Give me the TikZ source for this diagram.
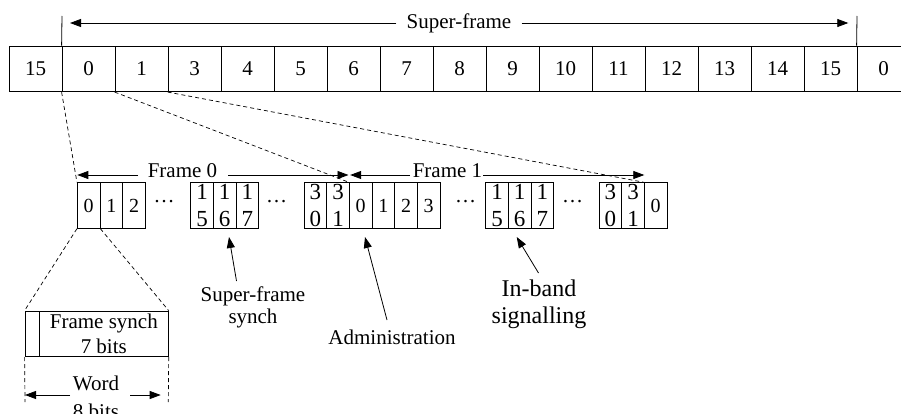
\documentclass[tikz,border=0pt]{standalone}
\usepackage{fontspec}
\setmainfont{Liberation Serif}
\usetikzlibrary{arrows.meta}
\begin{document}
\begin{tikzpicture}[x=1pt,y=-1pt, line width=0.8pt,
  every node/.style={inner sep=0pt, font=\fontsize{21}{22}\selectfont},
  topcell/.style={draw, minimum width=53pt, minimum height=45.7pt},
  fcell/.style={draw, minimum width=22.67pt, minimum height=45.6pt, font=\fontsize{20}{24}\selectfont},
  scell/.style={draw, minimum width=22.67pt, minimum height=45.6pt, align=center, font=\fontsize{23}{27}\selectfont},
  dashline/.style={dash pattern=on 4pt off 3pt, line width=0.7pt},
  arr/.style={-{Triangle[length=11pt,width=8pt]}},
  lbl/.style={align=center},
  dotsnode/.style={anchor=base}
]
\useasboundingbox (0,0) rectangle (901,414);

% top row
\foreach \t [count=\i from 0] in {15,0,1,3,4,5,6,7,8,9,10,11,12,13,14,15,0}
  \node[topcell] (c\i) at ({35.5+53*\i},68.8) {\t};

% super-frame marker
\coordinate (tl) at (62,16);
\coordinate (tr) at (857,16);
\draw (c1.north west) -- (tl);
\draw (c16.north west) -- (tr);
\node[inner xsep=10pt] (sf) at (459,23) {Super-frame};
\coordinate (sftl) at (70,23);
\coordinate (sftr) at (848.3,23);
\draw[arr] (sf.west) -- (sftl);
\draw[arr] (sf.east) -- (sftr);

% frame row
\node[fcell] (fa0) at (88.67,205.5) {\lower3pt\hbox{0}};
\node[fcell] (fa1) at (111.33,205.5) {\lower3pt\hbox{1}};
\node[fcell] (fa2) at (134.0,205.5) {\lower3pt\hbox{2}};
\node[dotsnode] (d1) at (164,202) {…};
\node[scell] (fb15) at (202.0,205.5) {1\\5};
\node[scell] (fb16) at (224.67,205.5) {1\\6};
\node[scell] (fb17) at (247.33,205.5) {1\\7};
\node[dotsnode] (d2) at (276.7,202) {…};
\node[scell] (fc30) at (315.33,205.5) {3\\0};
\node[scell] (fc31) at (338.0,205.5) {3\\1};
\node[fcell] (ga0) at (360.67,205.5) {\lower3pt\hbox{0}};
\node[fcell] (ga1) at (383.33,205.5) {\lower3pt\hbox{1}};
\node[fcell] (ga2) at (406.0,205.5) {\lower3pt\hbox{2}};
\node[fcell] (ga3) at (428.67,205.5) {\lower3pt\hbox{3}};
\node[dotsnode] (d3) at (465.5,202) {…};
\node[scell] (gb15) at (497.0,205.5) {1\\5};
\node[scell] (gb16) at (519.67,205.5) {1\\6};
\node[scell] (gb17) at (542.33,205.5) {1\\7};
\node[dotsnode] (d4) at (572.5,202) {…};
\node[scell] (gc30) at (610.33,205.5) {3\\0};
\node[scell] (gc31) at (633.0,205.5) {3\\1};
\node[fcell] (h0) at (655.67,205.5) {\lower3pt\hbox{0}};

% frame labels
\node (f0lbl) at (182.5,170.5) {Frame 0};
\coordinate (f0a) at (138,175);
\coordinate (f0b) at (228,175);
\coordinate (f0l) at (77.3,175);
\coordinate (f0r) at (348.5,175);
\draw[arr] (f0a) -- (f0l);
\draw[arr] (f0b) -- (f0r);
\node (f1lbl) at (447.5,170.5) {Frame 1};
\coordinate (f1a) at (410,175);
\coordinate (f1b) at (483,175);
\coordinate (f1l) at (350.2,175);
\coordinate (f1r) at (644.3,175);
\draw[arr] (f1a) -- (f1l);
\draw[arr] (f1b) -- (f1r);

% dashed expansion lines
\draw[dashline] (c1.south west) -- (fa0.north west);
\draw[dashline] (c2.south west) -- (ga0.north west);
\draw[dashline] (c3.south west) -- (h0.north west);

% word box
\node[draw, minimum width=14.3pt, minimum height=45.7pt] (wbit) at (32.15,333.85) {};
\node[draw, minimum width=129pt, minimum height=45.7pt, align=center,
      font=\fontsize{21}{25}\selectfont] (wsync) at (103.8,333.85) {Frame synch\\7 bits};
\draw[dashline] (fa0.south west) -- (wbit.north west);
\draw[dashline] (fa0.south east) -- (wsync.north east);
\coordinate (wl) at (25,402);
\coordinate (wr) at (168.3,402);
\draw[dashline] (wbit.south west) -- (wl);
\draw[dashline] (wsync.south east) -- (wr);
\node[lbl, font=\fontsize{21}{28}\selectfont] (wordlbl) at (96,397) {Word\\8 bits};
\coordinate (wa1) at (70,395);
\coordinate (wa2) at (130,395);
\coordinate (wal) at (25,395);
\coordinate (war) at (160.7,395);
\draw[arr] (wa1) -- (wal);
\draw[arr] (wa2) -- (war);

% pointer labels
\node[lbl] (ssync) at (253,307) {Super-frame\\synch};
\coordinate (p1s) at (236.5,281);
\coordinate (p1t) at (229,237);
\draw[arr] (p1s) -- (p1t);
\node (admin) at (392,337) {Administration};
\coordinate (p2s) at (387,320);
\coordinate (p2t) at (365,237);
\draw[arr] (p2s) -- (p2t);
\node[lbl, font=\fontsize{24}{27}\selectfont] (inband) at (539,304.3) {In-band\\signalling};
\coordinate (p3s) at (538.5,273);
\coordinate (p3t) at (516.7,237);
\draw[arr] (p3s) -- (p3t);
\end{tikzpicture}
\end{document}
